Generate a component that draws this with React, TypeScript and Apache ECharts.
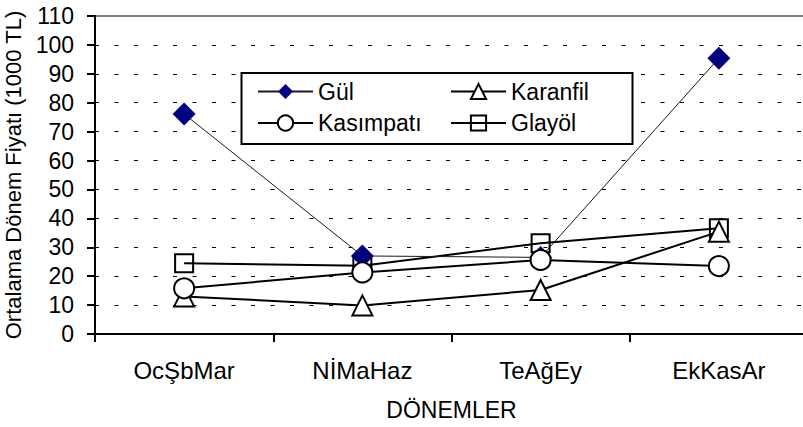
import React, { useEffect, useRef } from "react";
import * as echarts from "echarts";

const categories = ["OcŞbMar", "NİMaHaz", "TeAğEy", "EkKasAr"];
const gul = [76.1, 27.0, 26.5, 95.4];
const karanfil = [13.0, 9.9, 15.2, 35.4];
const kasimpati = [15.8, 21.3, 25.6, 23.5];
const glayol = [24.5, 23.6, 31.4, 36.6];
const yTicks = { min: 0, max: 110, interval: 10 };
const yAxisTitle = "Ortalama Dönem Fiyatı (1000 TL)";
const xAxisTitle = "DÖNEMLER";

const FONT = "'Liberation Sans', Arial, sans-serif";

export default function App() {
  const ref = useRef<HTMLDivElement>(null);
  useEffect(() => {
    if (!ref.current) return;
    const chart = echarts.init(ref.current, null, { renderer: "svg" });
    const hollow = (fill: string) => ({
      color: fill,
      borderColor: "#000",
      borderWidth: 2,
    });
    const legendBase = {
      orient: "vertical",
      top: 80,
      itemWidth: 55,
      itemHeight: 19,
      itemGap: 8.5,
      padding: 0,
      selectedMode: false,
      z: 5,
      textStyle: { fontSize: 23, fontFamily: FONT, color: "#000" },
    };
    chart.setOption({
      animation: false,
      backgroundColor: "#fff",
      grid: {
        left: 95,
        top: 16,
        width: 713,
        height: 318,
        show: true,
        borderColor: "#808080",
        borderWidth: 2,
        backgroundColor: "transparent",
        outerBoundsMode: "none",
      },
      legend: [
        { ...legendBase, left: 257, data: ["Gül", "Kasımpatı"] },
        { ...legendBase, left: 450, data: ["Karanfil", "Glayöl"] },
      ],
      graphic: [
        {
          type: "rect",
          z: 3,
          shape: { x: 241.5, y: 73, width: 391, height: 71 },
          style: { fill: "#fff", stroke: "#000", lineWidth: 2 },
        },
      ],
      xAxis: {
        type: "category",
        data: categories,
        boundaryGap: true,
        name: xAxisTitle,
        nameLocation: "middle",
        nameGap: 64,
        nameTextStyle: { fontSize: 23, fontFamily: FONT, color: "#000" },
        axisLine: { show: true, lineStyle: { color: "#000", width: 2 } },
        axisTick: { show: true, length: 8, lineStyle: { color: "#000", width: 2 } },
        axisLabel: { fontSize: 24, fontFamily: FONT, color: "#000", margin: 24 },
        splitLine: { show: false },
      },
      yAxis: {
        type: "value",
        min: yTicks.min,
        max: yTicks.max,
        interval: yTicks.interval,
        name: yAxisTitle,
        nameLocation: "middle",
        nameRotate: 90,
        nameGap: 61,
        nameTextStyle: { fontSize: 22, fontFamily: FONT, color: "#000" },
        axisLine: { show: true, lineStyle: { color: "#000", width: 2 } },
        axisTick: { show: true, length: 8, lineStyle: { color: "#000", width: 2 } },
        axisLabel: { fontSize: 23, fontFamily: FONT, color: "#000", margin: 21 },
        splitLine: {
          show: true,
          showMinLine: false,
          showMaxLine: false,
          lineStyle: { color: "#000", width: 1, type: [4, 15.5] },
        },
      },
      series: [
        {
          name: "Glayöl",
          type: "line",
          data: glayol,
          symbol: "rect",
          symbolSize: 18,
          itemStyle: hollow("rgba(255,255,255,0)"),
          lineStyle: { color: "#000", width: 2 },
        },
        {
          name: "Gül",
          type: "line",
          data: gul,
          symbol: "diamond",
          symbolSize: 23,
          itemStyle: { color: "#000080", borderWidth: 0 },
          lineStyle: { color: "#1a1a1a", width: 1 },
        },
        {
          name: "Karanfil",
          type: "line",
          data: karanfil,
          symbol: "triangle",
          symbolSize: 20,
          itemStyle: hollow("#fff"),
          lineStyle: { color: "#000", width: 2 },
        },
        {
          name: "Kasımpatı",
          type: "line",
          data: kasimpati,
          symbol: "circle",
          symbolSize: 20,
          itemStyle: hollow("#fff"),
          lineStyle: { color: "#000", width: 2 },
        },
      ],
    });
    return () => chart.dispose();
  }, []);
  return (
    <div
      ref={ref}
      style={{ position: "absolute", left: 0, top: 0, width: 803, height: 427 }}
    />
  );
}
